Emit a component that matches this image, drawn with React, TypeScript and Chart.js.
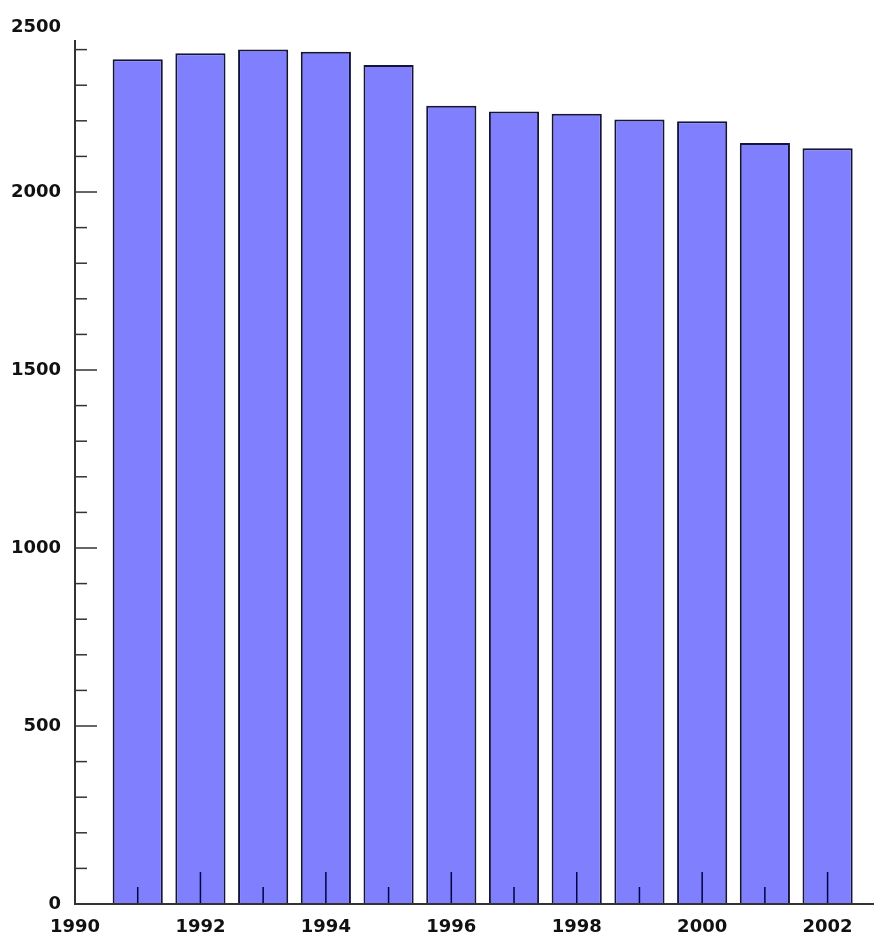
import React, { useEffect, useRef } from "react";
import { Chart, registerables } from "chart.js";

Chart.register(...registerables);

const years = [1991, 1992, 1993, 1994, 1995, 1996, 1997, 1998, 1999, 2000, 2001, 2002];
const values = [2373, 2390, 2400, 2394, 2357, 2242, 2226, 2220, 2204, 2199, 2138, 2123];
const yTickLabels = [0, 500, 1000, 1500, 2000, 2500];
const xTickLabels = [1990, 1992, 1994, 1996, 1998, 2000, 2002];

const axesPlugin = {
  id: "customAxes",
  afterDatasetsDraw(chart: any) {
    const { ctx, chartArea, scales } = chart;
    const xs = scales.x;
    const ys = scales.y;
    const x0 = xs.getPixelForValue(xs.min);
    const y0 = ys.getPixelForValue(0);
    ctx.save();

    // x minor/major ticks (inside, upward)
    ctx.strokeStyle = "#000044";
    ctx.lineWidth = 1.5;
    for (let v = Math.ceil(xs.min) + 1; v <= xs.max; v++) {
      const px = xs.getPixelForValue(v);
      const len = v % 2 === 0 ? 32 : 17;
      ctx.beginPath();
      ctx.moveTo(px, y0);
      ctx.lineTo(px, y0 - len);
      ctx.stroke();
    }

    // axes lines
    ctx.strokeStyle = "#333333";
    ctx.lineWidth = 2;
    ctx.beginPath();
    ctx.moveTo(x0, chartArea.top);
    ctx.lineTo(x0, y0);
    ctx.lineTo(chart.width, y0);
    ctx.stroke();

    // y ticks
    ctx.lineWidth = 1.5;
    for (let v = 100; v <= ys.max; v += 100) {
      const py = ys.getPixelForValue(v);
      const len = v % 500 === 0 ? 22 : 12;
      ctx.beginPath();
      ctx.moveTo(x0, py);
      ctx.lineTo(x0 + len, py);
      ctx.stroke();
    }

    // labels
    ctx.fillStyle = "#111111";
    ctx.font = 'bold 18px "DejaVu Sans"';
    ctx.textAlign = "right";
    ctx.textBaseline = "middle";
    yTickLabels.forEach((v) => {
      const py = Math.max(ys.getPixelForValue(v), chartArea.top - 13);
      ctx.fillText(String(v), x0 - 14, py);
    });
    ctx.textAlign = "center";
    xTickLabels.forEach((v) => {
      const px = xs.getPixelForValue(v);
      ctx.fillText(String(v), px, y0 + 23);
    });
    ctx.restore();
  },
};

export default function App() {
  const ref = useRef<HTMLCanvasElement | null>(null);
  useEffect(() => {
    if (!ref.current) return;
    const chart = new Chart(ref.current, {
      type: "bar",
      data: {
        datasets: [
          {
            data: years.map((y, i) => ({ x: y, y: values[i] })),
            backgroundColor: "#8080ff",
            borderColor: "#15153a",
            borderWidth: 2,
            categoryPercentage: 1,
            barPercentage: 0.8,
          },
        ],
      },
      options: {
        animation: false,
        responsive: true,
        maintainAspectRatio: false,
        layout: { padding: { left: 75, top: 40, right: 0, bottom: 32 } },
        plugins: { legend: { display: false }, tooltip: { enabled: false } },
        scales: {
          x: { type: "linear", min: 1990, max: 2002.74, offset: false, display: false, ticks: { stepSize: 1 } },
          y: { min: 0, max: 2427, display: false, ticks: { stepSize: 100 } },
        },
      },
      plugins: [axesPlugin],
    });
    return () => chart.destroy();
  }, []);
  return (
    <div style={{ position: "fixed", left: 0, top: 0, width: 874, height: 936, background: "#ffffff" }}>
      <canvas ref={ref} />
    </div>
  );
}
